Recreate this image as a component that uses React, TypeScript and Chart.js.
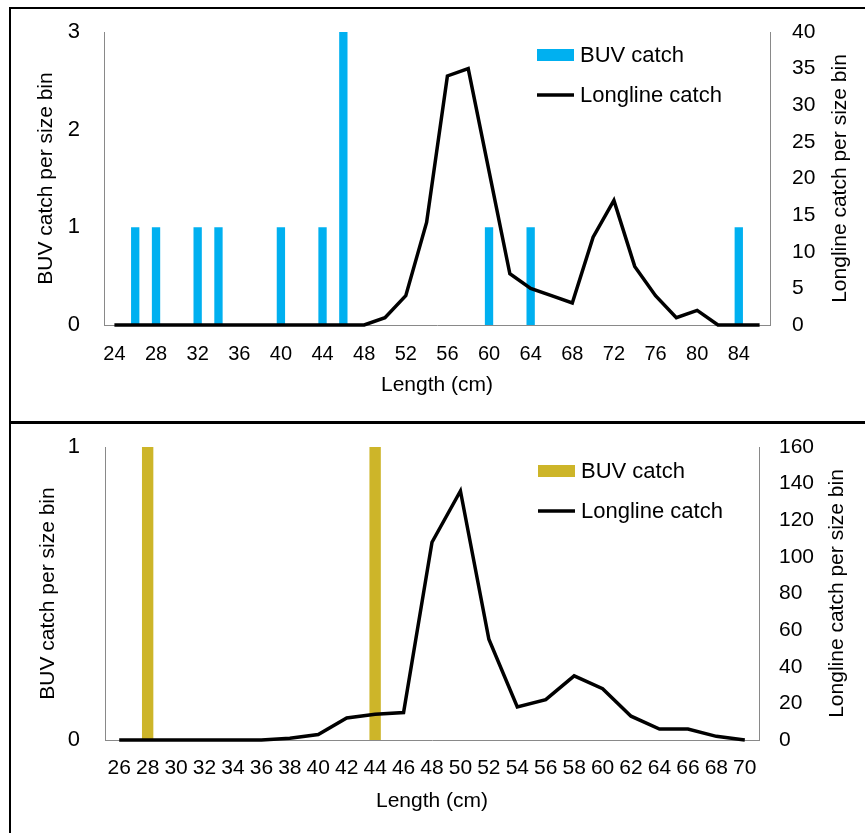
import React, { useEffect, useRef } from 'react';
import { Chart, registerables } from 'chart.js';

Chart.register(...registerables);

const FONT = '"Liberation Sans", Arial, sans-serif';

// ---- Top panel data ----
const topLengths = ['24','26','28','30','32','34','36','38','40','42','44','46','48','50','52','54','56','58','60','62','64','66','68','70','72','74','76','78','80','82','84','86'];
const topBuvCatch = [0,1,1,0,1,1,0,0,1,0,1,3,0,0,0,0,0,0,1,0,1,0,0,0,0,0,0,0,0,0,1,0];
const topLonglineCatch = [0,0,0,0,0,0,0,0,0,0,0,0,0,1,4,14,34,35,21,7,5,4,3,12,17,8,4,1,2,0,0,0];

// ---- Bottom panel data ----
const bottomLengths = ['26','28','30','32','34','36','38','40','42','44','46','48','50','52','54','56','58','60','62','64','66','68','70'];
const bottomBuvCatch = [0,1,0,0,0,0,0,0,0,1,0,0,0,0,0,0,0,0,0,0,0,0,0];
const bottomLonglineCatch = [0,0,0,0,0,0,1,3,12,14,15,108,136,55,18,22,35,28,13,6,6,2,0];

const legendBuv = 'BUV catch';
const legendLongline = 'Longline catch';
const leftTitle = 'BUV catch per size bin';
const rightTitle = 'Longline catch per size bin';
const xTitle = 'Length (cm)';

const AXIS_GREY = '#898989';

const overlayPlugin = {
  id: 'overlay',
  afterDraw(chart: any, _args: any, opts: any) {
    const ctx = chart.ctx;
    const area = chart.chartArea;
    ctx.save();
    ctx.font = `${opts.titleSize}px ${FONT}`;
    ctx.fillStyle = '#000';
    ctx.textAlign = 'center';
    ctx.textBaseline = 'middle';
    ctx.translate(opts.rightTitleX, (area.top + area.bottom) / 2);
    ctx.rotate(-Math.PI / 2);
    ctx.fillText(opts.rightTitle, 0, 0);
    ctx.restore();

    ctx.save();
    ctx.font = `${opts.legendSize}px ${FONT}`;
    ctx.textAlign = 'left';
    ctx.textBaseline = 'middle';
    chart.data.datasets.forEach((ds: any, i: number) => {
      const y = opts.legendY + i * opts.legendGap;
      const x = opts.legendX;
      if (ds.type === 'line') {
        ctx.strokeStyle = ds.borderColor;
        ctx.lineWidth = 3.5;
        ctx.beginPath();
        ctx.moveTo(x, y);
        ctx.lineTo(x + 37, y);
        ctx.stroke();
      } else {
        ctx.fillStyle = ds.backgroundColor;
        ctx.fillRect(x, y - 6, 37, 12);
      }
      ctx.fillStyle = '#000';
      ctx.fillText(ds.label, x + 43, y + 1);
    });
    ctx.restore();
  },
};

type PanelProps = {
  labels: string[];
  buv: number[];
  longline: number[];
  barColor: string;
  leftMax: number;
  rightMax: number;
  rightStep: number;
  everyOther: boolean;
  width: number;
  height: number;
  leftW: number;
  rightW: number;
  xH: number;
  padTop: number;
  xTickSize: number;
  xTickPad: number;
  xTitlePad: number;
  leftTickPad: number;
  rightTickPad: number;
  leftTitlePad: number;
  rightTitleX: number;
  legendX: number;
  legendY: number;
};

function Panel(p: PanelProps) {
  const ref = useRef<HTMLCanvasElement | null>(null);
  useEffect(() => {
    if (!ref.current) return;
    const chart = new Chart(ref.current, {
      type: 'bar',
      data: {
        labels: p.labels,
        datasets: [
          {
            type: 'bar',
            label: legendBuv,
            data: p.buv,
            backgroundColor: p.barColor,
            barPercentage: 0.4,
            categoryPercentage: 1.0,
            yAxisID: 'y',
            order: 1,
          } as any,
          {
            type: 'line',
            label: legendLongline,
            data: p.longline,
            borderColor: '#000000',
            backgroundColor: '#000000',
            borderWidth: 3.5,
            pointRadius: 0,
            tension: 0,
            yAxisID: 'y1',
            order: 0,
            clip: false,
          } as any,
        ],
      },
      options: {
        responsive: false,
        animation: false,
        layout: { padding: { top: p.padTop, left: 0, right: 0, bottom: 0 } },
        plugins: {
          legend: { display: false },
          tooltip: { enabled: false },
          overlay: {
            rightTitle,
            rightTitleX: p.rightTitleX,
            titleSize: 21,
            legendSize: 22,
            legendX: p.legendX,
            legendY: p.legendY,
            legendGap: 40,
          },
        } as any,
        scales: {
          x: {
            type: 'category',
            offset: true,
            grid: { display: false, drawTicks: false },
            border: { display: true, color: AXIS_GREY, width: 1 },
            ticks: {
              autoSkip: false,
              maxRotation: 0,
              minRotation: 0,
              padding: p.xTickPad,
              color: '#000',
              font: { family: FONT, size: p.xTickSize },
              callback: (_v: any, i: number) => (p.everyOther && i % 2 === 1 ? '' : p.labels[i]),
            },
            title: {
              display: true,
              text: xTitle,
              color: '#000',
              font: { family: FONT, size: 21 },
              padding: { top: 0, bottom: p.xTitlePad },
            },
            afterFit: (s: any) => { s.height = p.xH; s.paddingLeft = 0; s.paddingRight = 0; },
          },
          y: {
            position: 'left',
            min: 0,
            max: p.leftMax,
            grid: { display: false, drawTicks: false },
            border: { display: true, color: AXIS_GREY, width: 1 },
            ticks: {
              stepSize: 1,
              padding: p.leftTickPad,
              color: '#000',
              font: { family: FONT, size: 22 },
            },
            title: {
              display: true,
              text: leftTitle,
              color: '#000',
              font: { family: FONT, size: 21 },
              padding: { top: p.leftTitlePad, bottom: 0 },
            },
            afterFit: (s: any) => { s.width = p.leftW; s.paddingTop = 0; s.paddingBottom = 0; },
          },
          y1: {
            position: 'right',
            min: 0,
            max: p.rightMax,
            grid: { display: false, drawTicks: false },
            border: { display: true, color: AXIS_GREY, width: 1 },
            ticks: {
              stepSize: p.rightStep,
              padding: p.rightTickPad,
              color: '#000',
              font: { family: FONT, size: 21 },
            },
            afterFit: (s: any) => { s.width = p.rightW; s.paddingTop = 0; s.paddingBottom = 0; },
          },
        },
      } as any,
      plugins: [overlayPlugin as any],
    });
    return () => chart.destroy();
  }, []);
  return <canvas ref={ref} width={p.width} height={p.height} style={{ display: 'block', width: p.width, height: p.height }} />;
}

export default function App() {
  return (
    <div style={{ position: 'fixed', left: 0, top: 0, width: 865, height: 833, overflow: 'hidden', background: '#fff' }}>
      <div style={{ position: 'absolute', left: 9, top: 7, width: 870, height: 416, border: '2px solid #000', boxSizing: 'border-box' }} />
      <div style={{ position: 'absolute', left: 9, top: 422, width: 870, height: 500, border: '2px solid #000', boxSizing: 'border-box' }} />
      <div style={{ position: 'absolute', left: 11, top: 9 }}>
        <Panel
          labels={topLengths}
          buv={topBuvCatch}
          longline={topLonglineCatch}
          barColor="#00B0F0"
          leftMax={3}
          rightMax={40}
          rightStep={5}
          everyOther={true}
          width={854}
          height={410}
          leftW={93}
          rightW={95}
          xH={94}
          padTop={23}
          xTickSize={20}
          xTickPad={17}
          xTitlePad={21}
          leftTickPad={24}
          rightTickPad={22}
          leftTitlePad={23}
          rightTitleX={829}
          legendX={526}
          legendY={46}
        />
      </div>
      <div style={{ position: 'absolute', left: 11, top: 424 }}>
        <Panel
          labels={bottomLengths}
          buv={bottomBuvCatch}
          longline={bottomLonglineCatch}
          barColor="#CDB529"
          leftMax={1}
          rightMax={160}
          rightStep={20}
          everyOther={false}
          width={854}
          height={409}
          leftW={94}
          rightW={106}
          xH={93}
          padTop={23}
          xTickSize={21}
          xTickPad={16}
          xTitlePad={19}
          leftTickPad={25}
          rightTickPad={20}
          leftTitlePad={25}
          rightTitleX={826}
          legendX={527}
          legendY={47}
        />
      </div>
    </div>
  );
}
